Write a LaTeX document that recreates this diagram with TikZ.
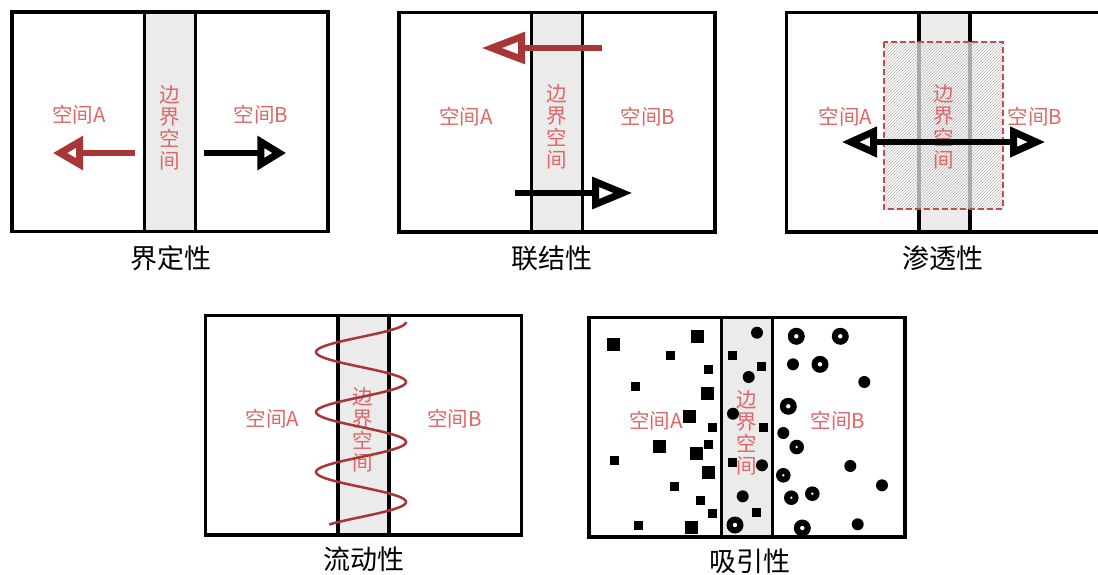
\documentclass[tikz,border=0pt]{standalone}
\usepackage{fontspec}
\newfontfamily\cjk{Noto Sans CJK SC}
\usetikzlibrary{calc,patterns}
\definecolor{lblred}{HTML}{E06666}
\definecolor{arrowred}{HTML}{A83636}
\definecolor{bandgray}{HTML}{EBEBEB}
\definecolor{hatchgray}{HTML}{B4B4B4}
\definecolor{dashred}{HTML}{BC4E4E}

\begin{document}
\begin{tikzpicture}[x=1pt, y=-1pt,
  panelbox/.style={draw, line width=3.5pt, fill=white, minimum width=316pt, minimum height=219.3pt, inner sep=0pt},
  bandbox/.style={draw, line width=3.5pt, fill=bandgray, minimum width=51pt, minimum height=219.3pt, inner sep=0pt},
  lbl/.style={text=lblred, font={\cjk\fontsize{20.5}{22}\selectfont}, inner sep=0pt},
  vlbl/.style={lbl, align=center},
  captxt/.style={font={\cjk\fontsize{27}{27}\selectfont}, inner sep=0pt},
  redarrow/.style={draw=arrowred, line width=5.5pt},
  blkarrow/.style={draw=black, line width=5.5pt},
  redhead/.style={draw=arrowred, line width=7pt, fill=white, line join=miter},
  blkhead/.style={draw=black, line width=7pt, fill=white, line join=miter},
  wave/.style={draw=arrowred, line width=2.5pt},
  bigsq/.style={fill, minimum size=13pt, inner sep=0pt},
  smallsq/.style={fill, minimum size=9pt, inner sep=0pt}]

  \useasboundingbox (0,0) rectangle (1098,574);

  % First row
  \node[panelbox] (F1) at (169.85,121.65) {};
  \node[bandbox] (M1) at (F1.center) {};
  \node[lbl] (A1) at ($(F1.center)+(-91,-7)$) {空间A};
  \node[lbl] (B1) at ($(F1.center)+(91,-7)$) {空间B};
  \node[vlbl] (V1) at ($(F1.center)+(0,6)$) {边\\界\\空\\间};
  \node[captxt] (C1) at ($(F1.south)+(1,25)$) {界定性};
  \coordinate (R1s) at (135,153);
  \coordinate (R1e) at (60.2,153);
  \coordinate (K1s) at (204,153);
  \coordinate (K1e) at (279.1,153);
  \draw[redarrow] (R1s) -- (R1e);
  \draw[redhead] (R1e) -- ++(19.3,-11.25) -- ++(0,22.5) -- cycle;
  \draw[blkarrow] (K1s) -- (K1e);
  \draw[blkhead] (K1e) -- ++(-18.35,-11.25) -- ++(0,22.5) -- cycle;

  \node[panelbox] (F2) at (556.85,122.35) {};
  \node[bandbox] (M2) at (F2.center) {};
  \node[lbl] (A2) at ($(F2.center)+(-91,-6)$) {空间A};
  \node[lbl] (B2) at ($(F2.center)+(91,-6)$) {空间B};
  \node[vlbl] (V2) at ($(F2.center)+(0,5)$) {边\\界\\空\\间};
  \node[captxt] (C2) at ($(F2.south)+(-5,24.5)$) {联结性};
  \coordinate (R2s) at (602,48);
  \coordinate (R2e) at (492,48);
  \coordinate (K2s) at (515,193);
  \coordinate (K2e) at (622.6,193);
  \draw[redarrow] (R2s) -- (R2e);
  \draw[redhead] (R2e) -- ++(29.5,-11.25) -- ++(0,22.5) -- cycle;
  \draw[blkarrow] (K2s) -- (K2e);
  \draw[blkhead] (K2e) -- ++(-27.1,-11.25) -- ++(0,22.5) -- cycle;

  \node[panelbox] (F3) at (944.3,122.25) {};
  \node[bandbox] (M3) at (F3.center) {};
  \node[lbl] (A3) at ($(F3.center)+(-99,-6)$) {空间A};
  \node[lbl] (B3) at ($(F3.center)+(90.5,-6)$) {空间B};
  \path[fill=white, fill opacity=0.65] (884,42.3) rectangle (1002.7,209);
  \path[pattern=north east lines, pattern color=hatchgray] (884,42.3) rectangle (1002.7,209);
  \draw[dashred, line width=1.8pt, dash pattern=on 6pt off 3pt] (884,42.3) rectangle (1002.7,209);
  \node[vlbl] (V3) at ($(F3.center)+(-1,5)$) {边\\界\\空\\间};
  \node[captxt] (C3) at ($(F3.south)+(-1,25)$) {渗透性};
  \coordinate (D3s) at (850.8,142);
  \coordinate (D3e) at (1036.2,142);
  \draw[blkarrow] (D3s) -- (D3e);
  \draw[blkhead] (D3s) -- ++(22.7,-10.25) -- ++(0,20.5) -- cycle;
  \draw[blkhead] (D3e) -- ++(-22.7,-10.25) -- ++(0,20.5) -- cycle;

  % Second row
  \node[panelbox] (F4) at (363.55,425.3) {};
  \node[bandbox] (M4) at (F4.center) {};
  \node[lbl] (A4) at ($(F4.center)+(-91,-7)$) {空间A};
  \node[lbl] (B4) at ($(F4.center)+(91,-7)$) {空间B};
  \node[vlbl] (V4) at ($(F4.center)+(-1,5)$) {边\\界\\空\\间};
  \node[captxt] (C4) at ($(F4.south)+(0,23)$) {流动性};
  \draw[wave] plot[domain=0:6.75, samples=160, smooth] ({361+45*cos(\x*180)}, {322+30*\x});

  \node[panelbox] (F5) at (747.05,427.1) {};
  \node[bandbox] (M5) at (F5.center) {};
  \node[lbl] (A5) at ($(F5.center)+(-91,-6)$) {空间A};
  \node[lbl] (B5) at ($(F5.center)+(91,-6)$) {空间B};
  \node[vlbl] (V5) at ($(F5.center)+(0,6)$) {边\\界\\空\\间};
  \node[captxt] (C5) at ($(F5.south)+(3,23)$) {吸引性};
  % squares
  \foreach \x/\y in {613/344.7, 697.7/336, 707/393.7, 689/416, 659/446, 696/453.7, 708.7/472.7, 691.7/527.3}
    \node[bigsq] at (\x,\y) {};
  \foreach \x/\y in {670/355.7, 708.7/369.7, 635/386.7, 712/427, 708.3/444.3, 614.3/460.3, 674.3/486.3,
      700/500.7, 712/513.7, 638.3/525.3, 732/355.3, 761.3/366, 763.3/427, 732/462.7, 756/512}
    \node[smallsq] at (\x,\y) {};
  % dots and rings
  \foreach \x/\y in {757/332.7, 748.7/377, 733/413.7, 762/465.3, 742.7/496.3, 793/364.3, 864.3/382,
      783.3/433, 850.3/466, 882/485.3, 857.7/524.3}
    \fill (\x,\y) circle[radius=6pt];
  \foreach \x/\y in {796.3/336.3, 840.3/336.3, 820/364.3, 788.3/406.3, 735/525, 802.3/528} {
    \fill (\x,\y) circle[radius=8.5pt];
    \fill[white] (\x,\y) circle[radius=2.2pt];
  }
  \foreach \x/\y in {796.7/447, 783.3/475.3, 791.3/497.7, 812.3/493.7} {
    \fill (\x,\y) circle[radius=7.3pt];
    \fill[white] (\x,\y) circle[radius=1.3pt];
  }

\end{tikzpicture}
\end{document}
